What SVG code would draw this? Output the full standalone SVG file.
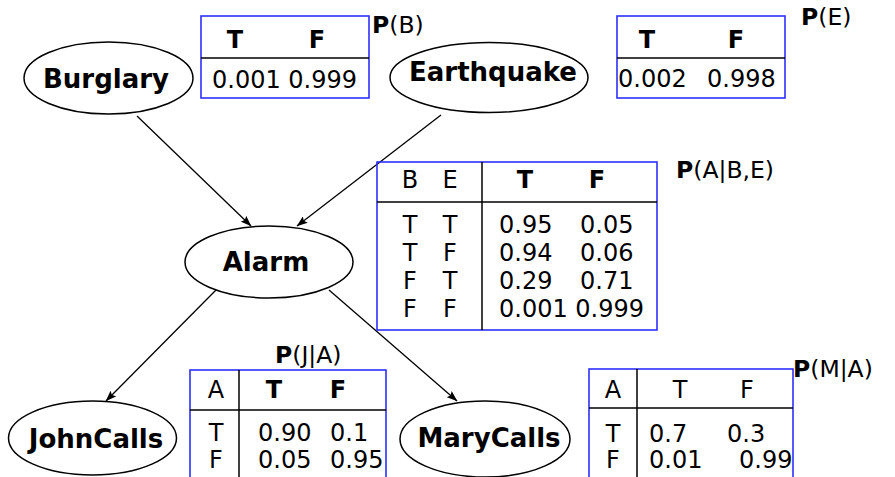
<svg xmlns="http://www.w3.org/2000/svg" width="895" height="477" viewBox="0 0 895 477">
<defs>
<marker id="arr" markerWidth="11" markerHeight="8" refX="10.5" refY="4" orient="auto" markerUnits="userSpaceOnUse">
<path d="M0,0 L11,4 L0,8 L2,4 z" fill="#000"/>
</marker>
<style>
.node{fill:#fff;stroke:#000;stroke-width:1.5}
.lbl{font-family:"DejaVu Sans",Verdana,sans-serif;font-weight:bold;font-size:26px;text-anchor:middle}
.tb{fill:none;stroke:#2f2fff;stroke-width:1.6}
.tl{stroke:#000;stroke-width:1.5}
.t{font-family:"DejaVu Sans",Verdana,sans-serif;font-size:24px}
.c{text-anchor:middle}
.b{font-weight:bold}
.p{font-family:"DejaVu Sans",Verdana,sans-serif;font-size:23.5px}
.edge{stroke:#000;stroke-width:1.3;fill:none;marker-end:url(#arr)}
</style>
</defs>
<rect width="895" height="477" fill="#fff"/>
<g id="connectors">
<line class="edge" x1="137" y1="116" x2="251" y2="226"/>
<line class="edge" x1="441" y1="115" x2="297" y2="226"/>
<line class="edge" x1="216" y1="290" x2="106" y2="401"/>
<line class="edge" x1="329" y1="290" x2="457" y2="401"/>
</g>
<g id="burglary">
<ellipse class="node" cx="108.5" cy="78" rx="84.5" ry="36"/>
<text class="lbl" x="106" y="88">Burglary</text>
</g>
<g id="earthquake">
<ellipse class="node" cx="489" cy="77.5" rx="99" ry="35"/>
<text class="lbl" x="493" y="81">Earthquake</text>
</g>
<g id="alarm">
<ellipse class="node" cx="269" cy="262" rx="84" ry="36"/>
<text class="lbl" x="266" y="271">Alarm</text>
</g>
<g id="johncalls">
<ellipse class="node" cx="92.5" cy="438" rx="84" ry="37"/>
<text class="lbl" x="96" y="448">JohnCalls</text>
</g>
<g id="marycalls">
<ellipse class="node" cx="485" cy="439" rx="85" ry="38"/>
<text class="lbl" x="489" y="447">MaryCalls</text>
</g>
<g id="cpt-b">
<rect class="tb" x="201" y="16" width="168" height="82"/>
<line class="tl" x1="201" y1="58" x2="369" y2="58"/>
<text class="t c b" x="235" y="48">T</text>
<text class="t c b" x="317" y="48">F</text>
<text class="t" x="212" y="88">0.001 0.999</text>
<text class="p" x="372" y="33"><tspan font-weight="bold">P</tspan>(B)</text>
</g>
<g id="cpt-e">
<rect class="tb" x="617" y="16" width="168" height="82"/>
<line class="tl" x1="617" y1="58" x2="785" y2="58"/>
<text class="t c b" x="647" y="48">T</text>
<text class="t c b" x="736" y="48">F</text>
<text class="t" x="618" y="87">0.002</text>
<text class="t" x="707" y="87">0.998</text>
<text class="p" x="801" y="25"><tspan font-weight="bold">P</tspan>(E)</text>
</g>
<g id="cpt-a">
<rect class="tb" x="377" y="162" width="280" height="168"/>
<line class="tl" x1="482" y1="162" x2="482" y2="330"/>
<line class="tl" x1="377" y1="202" x2="657" y2="202"/>
<text class="t c" x="410" y="188">B</text>
<text class="t c" x="450" y="188">E</text>
<text class="t c b" x="525" y="188">T</text>
<text class="t c b" x="597" y="188">F</text>
<text class="t c" x="410" y="233">T</text><text class="t c" x="450" y="233">T</text>
<text class="t" x="499" y="233">0.95</text><text class="t" x="580" y="233">0.05</text>
<text class="t c" x="410" y="261">T</text><text class="t c" x="450" y="261">F</text>
<text class="t" x="499" y="261">0.94</text><text class="t" x="580" y="261">0.06</text>
<text class="t c" x="410" y="289">F</text><text class="t c" x="450" y="289">T</text>
<text class="t" x="499" y="289">0.29</text><text class="t" x="580" y="289">0.71</text>
<text class="t c" x="410" y="317">F</text><text class="t c" x="450" y="317">F</text>
<text class="t" x="499" y="317">0.001 0.999</text>
<text class="p" x="676" y="178"><tspan font-weight="bold">P</tspan>(A|B,E)</text>
</g>
<g id="cpt-j">
<rect class="tb" x="190" y="370" width="196" height="130"/>
<line class="tl" x1="239" y1="370" x2="239" y2="500"/>
<line class="tl" x1="190" y1="410" x2="386" y2="410"/>
<text class="t c" x="216" y="398">A</text>
<text class="t c b" x="274" y="398">T</text>
<text class="t c b" x="338" y="398">F</text>
<text class="t c" x="216" y="441">T</text>
<text class="t" x="258" y="441">0.90</text><text class="t" x="330" y="441">0.1</text>
<text class="t c" x="216" y="468">F</text>
<text class="t" x="258" y="468">0.05</text><text class="t" x="330" y="468">0.95</text>
<text class="p" x="275" y="363"><tspan font-weight="bold">P</tspan>(J|A)</text>
</g>
<g id="cpt-m">
<rect class="tb" x="589" y="369" width="204" height="130"/>
<line class="tl" x1="637" y1="369" x2="637" y2="499"/>
<line class="tl" x1="589" y1="408" x2="793" y2="408"/>
<text class="t c" x="613" y="398">A</text>
<text class="t c" x="680" y="398">T</text>
<text class="t c" x="747" y="398">F</text>
<text class="t c" x="613" y="442">T</text>
<text class="t" x="649" y="442">0.7</text><text class="t" x="727" y="442">0.3</text>
<text class="t c" x="613" y="468">F</text>
<text class="t" x="649" y="468">0.01</text><text class="t" x="739" y="468">0.99</text>
<text class="p" x="793" y="377"><tspan font-weight="bold">P</tspan>(M|A)</text>
</g>
</svg>
